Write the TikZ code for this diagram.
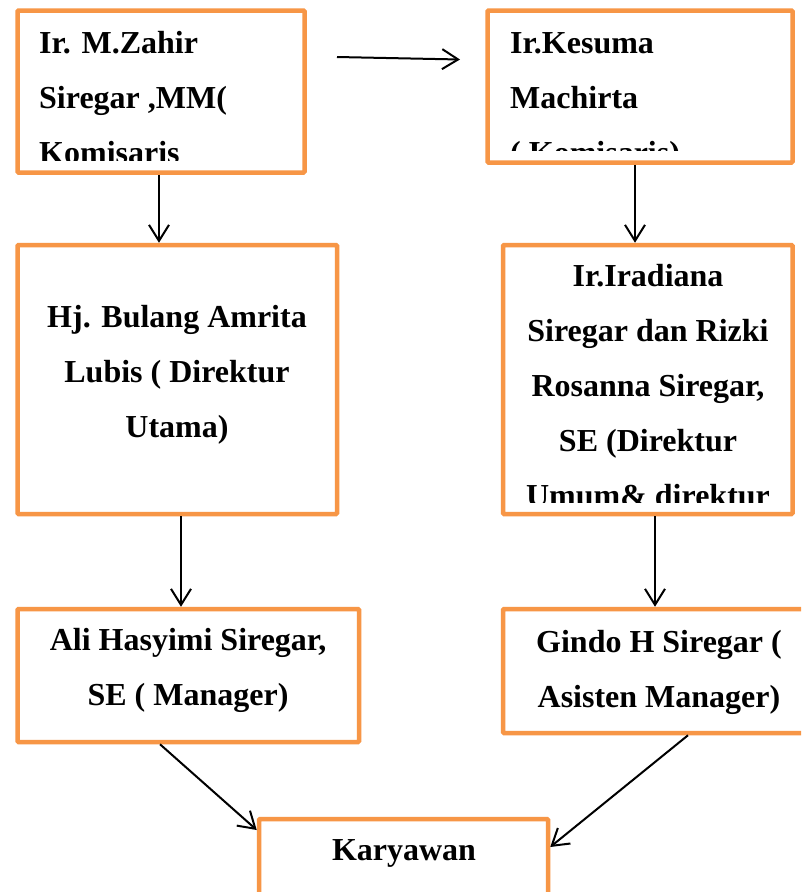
\documentclass[tikz,border=0pt]{standalone}
\usepackage{fontspec}
\setmainfont{Liberation Serif}
\usetikzlibrary{arrows.meta}
\definecolor{boxorange}{RGB}{247,150,70}
\begin{document}
\begin{tikzpicture}[x=1pt,y=-1pt,
  box/.style={draw=boxorange, line width=4.5pt, rounded corners=1pt, inner sep=0pt, fill=none},
  txt/.style={font=\fontsize{32}{40}\selectfont\bfseries, inner sep=0pt},
  conn/.style={-{Straight Barb[length=16pt,width=20pt]}, line width=2pt, black}]
\clip (0,0) rectangle (801,892);
\fill[white] (0,0) rectangle (801,892);

% texts (clipped where the reference cuts them)
\begin{scope}
  \clip (20,13) rectangle (302,160);
  \node[txt, anchor=base west] (ta1) at (39,53) {Ir. M.Zahir};
  \node[txt, anchor=base west] (ta2) at (39,108) {Siregar ,MM(};
  \node[txt, anchor=base west] (ta3) at (39,163) {Komisaris};
\end{scope}
\begin{scope}
  \clip (490,13) rectangle (790,150);
  \node[txt, anchor=base west] (tb1) at (510,53) {Ir.Kesuma};
  \node[txt, anchor=base west] (tb2) at (510,108) {Machirta};
  \node[txt, anchor=base west] (tb3) at (510,163) {( Komisaris)};
\end{scope}
\node[txt, anchor=base] (tc1) at (177,327) {Hj. Bulang Amrita};
\node[txt, anchor=base] (tc2) at (177,382) {Lubis ( Direktur};
\node[txt, anchor=base] (tc3) at (177,437) {Utama)};
\begin{scope}
  \clip (505,248) rectangle (790,502);
  \node[txt, anchor=base] (td1) at (648,286.5) {Ir.Iradiana};
  \node[txt, anchor=base] (td2) at (648,341.5) {Siregar dan Rizki};
  \node[txt, anchor=base] (td3) at (648,396.5) {Rosanna Siregar,};
  \node[txt, anchor=base] (td4) at (648,451.5) {SE (Direktur};
  \node[txt, anchor=base] (td5) at (648,506.5) {Umum\& direktur};
\end{scope}
\node[txt, anchor=base] (te1) at (188,650) {Ali Hasyimi Siregar,};
\node[txt, anchor=base] (te2) at (188,705) {SE ( Manager)};
\node[txt, anchor=base] (tf1) at (659,652) {Gindo H Siregar (};
\node[txt, anchor=base] (tf2) at (659,707) {Asisten Manager)};
\node[txt, anchor=base] (tg1) at (404,860) {Karyawan};

% boxes
\node[box, minimum width=287pt, minimum height=162pt] (A) at (161,91.5) {};
\node[box, minimum width=305pt, minimum height=152pt] (B) at (640,86.5) {};
\node[box, minimum width=319.5pt, minimum height=269pt] (C) at (177.25,379.5) {};
\node[box, minimum width=289.5pt, minimum height=269pt] (D) at (647.75,379.5) {};
\node[box, minimum width=341.5pt, minimum height=133pt] (E) at (188.25,675.5) {};
\node[box, minimum width=312pt, minimum height=124pt] (F) at (659,671) {};
\node[box, minimum width=289pt, minimum height=111pt] (G) at (403.5,874.5) {};

% connector helper coordinates
\coordinate (h1) at (337,57);
\coordinate (h2) at (460,59.5);
\coordinate (xa) at (159,0);
\coordinate (xb) at (635,0);
\coordinate (xc) at (181,0);
\coordinate (xd) at (655,0);
\coordinate (xe) at (160,0);
\coordinate (ye) at (0,830);
\coordinate (xf) at (688,0);
\coordinate (yf) at (0,847);

% connectors
\draw[conn] (h1) -- (h2);
\draw[conn] (A.south -| xa) -- (C.north -| xa);
\draw[conn] (B.south -| xb) -- (D.north -| xb);
\draw[conn] (C.south -| xc) -- (E.north -| xc);
\draw[conn] (D.south -| xd) -- (F.north -| xd);
\draw[conn] (E.south -| xe) -- (G.west |- ye);
\draw[conn] (F.south -| xf) -- (G.east |- yf);
\end{tikzpicture}
\end{document}
